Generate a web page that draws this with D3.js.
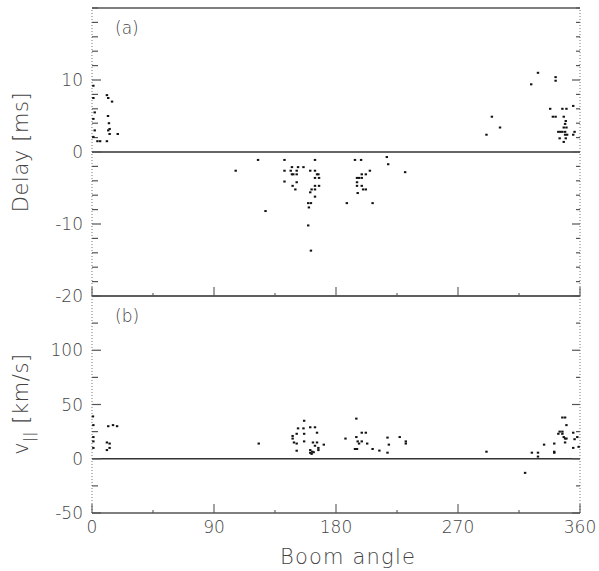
<!DOCTYPE html>
<html>
<head>
<meta charset="utf-8">
<script src="https://cdn.jsdelivr.net/npm/d3@7"></script>
<style>
  body { margin: 0; background: #fff; }
  text { font-family: "DejaVu Sans", sans-serif; font-weight: 200; fill: #444; }
</style>
</head>
<body>
<svg id="chart" width="599" height="571"></svg>
<script>
// boom angle [deg], delay [ms]
var delayPoints = [
  [1, 9.2], [1, 7.5], [2, 5.5], [1, 4.6], [2, 3], [1, 2.1], [4, 1.5], [6, 1.5], [11, 1.5],
  [11, 7.9], [12, 7.5], [14.8, 7], [11.8, 5], [12.5, 4], [12, 3], [13, 2.5], [19, 2.5], [13, 3.2],
  [106, -2.6], [122.5, -1.1], [128, -8.2],
  [142, -1.1], [142, -2.6], [142, -4.1], [147.5, -2.1], [146.6, -2.6], [147.5, -3.1], [148.5, -3.1],
  [152, -2.1], [151, -2.6], [151, -3.1], [151, -4.2], [156, -2.1], [148, -4.7], [150, -5.2],
  [161, -2.6], [164.5, -1.1], [164.5, -2.6], [166, -3.1], [167, -3.1], [164.5, -3.6], [167.5, -3.6],
  [164.5, -4.7], [167.5, -4.7], [162, -5.2], [164.5, -5.2], [161, -5.6], [164.5, -6.2],
  [159.5, -7.1], [161.5, -7.1], [160, -7.7], [159.5, -10.2], [161.5, -13.7],
  [194, -1.1], [198.5, -1.1], [217.5, -0.7], [218.5, -1.7], [205, -2.6], [199, -3.1], [202, -3.1],
  [195.5, -3.6], [197, -3.6], [199, -3.6], [195.5, -4.2], [195.5, -4.7], [199, -4.7], [200, -5.2],
  [202, -5.2], [196, -5.7], [188, -7.1], [207, -7.1], [231, -2.8],
  [291, 2.4], [295, 4.9], [301, 3.4], [324, 9.4], [329, 11], [342, 10.4], [342, 9.9],
  [338, 6], [347, 6], [350, 6], [355, 6.4], [340, 4.9], [342, 4.9], [348, 4.9], [349.5, 4.3],
  [349, 3.9], [348, 3.4], [350, 3.4], [344, 2.8], [345.5, 2.8], [347, 2.8], [349, 2.8], [356, 2.8],
  [349, 2.4], [350.5, 2.4], [355, 2.4], [345, 1.9], [349.5, 1.9], [348, 1.4]
];

// boom angle [deg], v_parallel [km/s]
var speedPoints = [
  [0.7, 39], [1, 31], [1, 20], [1, 16], [1, 10], [12, 30], [15.5, 31], [18.5, 30],
  [11, 15], [13, 14], [11, 8], [13, 10],
  [123, 14], [156.5, 35], [152, 28], [156, 28], [161, 29], [164.5, 29], [166, 24],
  [148, 21], [151, 23], [156.5, 23], [148, 18.6], [149, 15], [151, 14], [156.5, 16],
  [163, 15], [166, 15], [164.5, 12], [161, 8], [162.5, 6.5], [161, 5.5], [162, 4.5], [163.5, 6],
  [167, 8], [171, 13], [151, 7.4], [167, 10],
  [195, 37], [199, 24], [202, 24], [195, 20], [196, 16], [199, 16], [197, 14], [203, 14],
  [194, 9], [195.5, 9], [187, 18.6], [207, 9], [212, 7.5], [218, 19.5], [219, 13], [218, 5.6],
  [227, 20], [231.5, 16], [231.5, 14],
  [291, 6.5], [319.5, -13], [324.5, 5.6], [329, 5.6], [329, 2], [333.5, 13], [341, 14],
  [341, 6.5], [341, 5.5], [347, 38], [349, 38], [350, 31], [345, 25], [347, 25], [344, 23],
  [347, 23], [348, 20], [349, 18.6], [350, 18.6], [349, 15], [355, 24], [358, 20], [356, 18],
  [355, 10], [359, 11]
];

var angleMajor = [0, 90, 180, 270, 360];
var angleMinor = [45, 135, 225, 315];
var delayMajor = [-20, -10, 0, 10];
var delayMinor = [-18, -16, -14, -12, -8, -6, -4, -2, 2, 4, 6, 8, 12, 14, 16, 18, 20];
var speedMajor = [-50, 0, 50, 100];
var speedMinor = [-25, 25, 75, 125, 150];

var svg = d3.select("#chart");
var ink = "#555";

var x = d3.scaleLinear().domain([0, 360]).range([92, 580]);
var yA = d3.scaleLinear().domain([-20, 20]).range([296, 8]);
var yB = d3.scaleLinear().domain([-50, 150]).range([513, 296]);

// simple tick marks, drawn by hand so they point into the frame
function vTicks(g, y, vals, x0, len) {
    g.selectAll(null).data(vals).enter().append("line")
        .attr("x1", x0).attr("x2", x0 + len)
        .attr("y1", function(d) { return y(d); })
        .attr("y2", function(d) { return y(d); })
        .attr("stroke", ink).attr("stroke-width", 1.2);
}

function hTicks(g, vals, y0, len) {
    g.selectAll(null).data(vals).enter().append("line")
        .attr("x1", function(d) { return x(d); })
        .attr("x2", function(d) { return x(d); })
        .attr("y1", y0).attr("y2", y0 - len)
        .attr("stroke", ink).attr("stroke-width", 1.1);
}

function panel(y, major, minor, points, tag, labelTicks) {
    var g = svg.append("g");
    var y0 = y.range()[0], y1 = y.range()[1];

    // dotted side axes
    g.append("line").attr("x1", x(0)).attr("x2", x(0)).attr("y1", y0).attr("y2", y1)
        .attr("stroke", "#777").attr("stroke-width", 1).attr("stroke-dasharray", "1,2");
    g.append("line").attr("x1", x(360)).attr("x2", x(360)).attr("y1", y0).attr("y2", y1)
        .attr("stroke", "#777").attr("stroke-width", 1).attr("stroke-dasharray", "1,2");
    // top + bottom frame
    g.append("line").attr("x1", x(0)).attr("x2", x(360)).attr("y1", y0).attr("y2", y0)
        .attr("stroke", ink).attr("stroke-width", 1.3);
    g.append("line").attr("x1", x(0)).attr("x2", x(360)).attr("y1", y1).attr("y2", y1)
        .attr("stroke", ink).attr("stroke-width", 1.3);
    // zero line
    g.append("line").attr("x1", x(0)).attr("x2", x(360)).attr("y1", y(0)).attr("y2", y(0))
        .attr("stroke", "#333").attr("stroke-width", 1.4);

    vTicks(g, y, major, x(0), 9);
    vTicks(g, y, minor, x(0), 6);
    vTicks(g, y, major, x(360), -8);
    vTicks(g, y, minor, x(360), -4);
    hTicks(g, angleMajor, y0, 9);
    hTicks(g, angleMinor, y0, 3);

    g.selectAll(null).data(major).enter().append("text")
        .attr("x", x(0) - 9)
        .attr("y", function(d) { return y(d); })
        .attr("dy", "0.36em")
        .attr("text-anchor", "end")
        .attr("font-size", 17)
        .text(function(d) { return String(d); });

    if (labelTicks) {
        g.selectAll(null).data(angleMajor).enter().append("text")
            .attr("x", function(d) { return x(d); })
            .attr("y", y0 + 20)
            .attr("text-anchor", "middle")
            .attr("font-size", 17)
            .text(function(d) { return String(d); });
    }

    g.append("text").attr("x", 115).attr("y", y1 + 26).attr("font-size", 17).text(tag);

    g.selectAll(".pt")
        .data(points)
        .enter().append("rect")
        .attr("class", "pt")
        .attr("x", function(d) { return x(d[0]) - 1.2; })
        .attr("y", function(d) { return y(d[1]) - 1; })
        .attr("width", 2.4)
        .attr("height", 2)
        .attr("fill", "#111");
}

panel(yA, delayMajor, delayMinor, delayPoints, "(a)", false);
panel(yB, speedMajor, speedMinor, speedPoints, "(b)", true);

// axis titles
svg.append("text")
    .attr("transform", "translate(28," + yA(0) + ") rotate(-90)")
    .attr("text-anchor", "middle")
    .attr("font-size", 21)
    .attr("letter-spacing", 0.6)
    .text("Delay [ms]");

var vt = svg.append("text")
    .attr("transform", "translate(28,404) rotate(-90)")
    .attr("text-anchor", "middle")
    .attr("font-size", 21)
    .attr("letter-spacing", 0.6);
vt.append("tspan").text("v");
vt.append("tspan").attr("font-size", 14).attr("dy", 6).text("||");
vt.append("tspan").attr("dy", -6).text(" [km/s]");

svg.append("text")
    .attr("x", 348)
    .attr("y", 564)
    .attr("text-anchor", "middle")
    .attr("font-size", 21)
    .attr("letter-spacing", 1.2)
    .text("Boom angle");
</script>
</body>
</html>
